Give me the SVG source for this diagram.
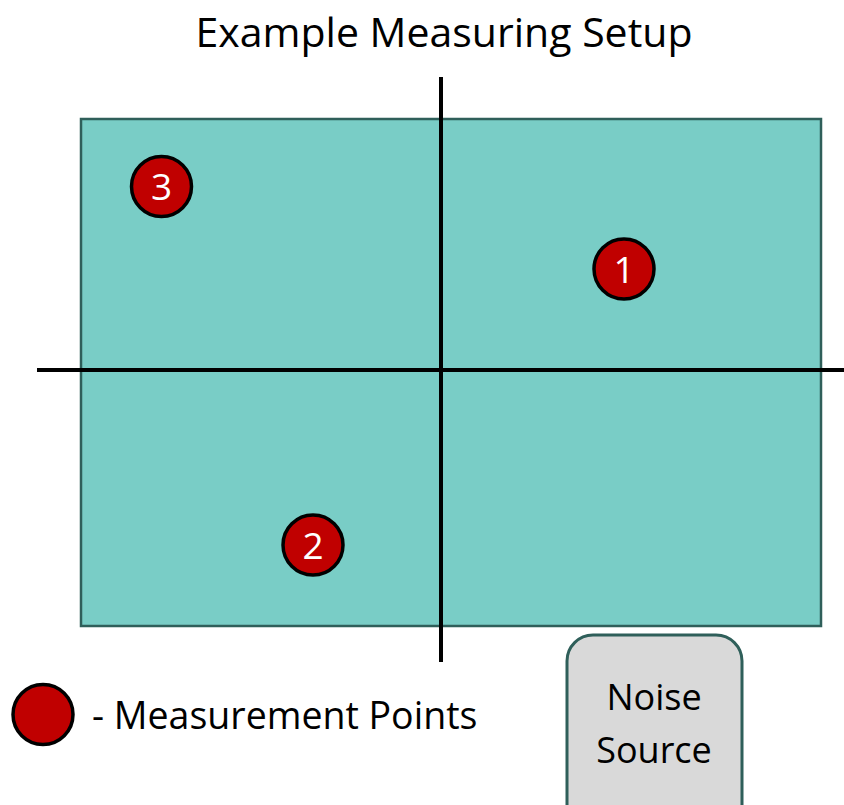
<svg xmlns="http://www.w3.org/2000/svg" width="844" height="805" viewBox="0 0 844 805">
  <style>
    .txt { font-family: "Open Sans", "Liberation Sans", sans-serif; fill: #000; }
    .num { font-family: "Open Sans", "Liberation Sans", sans-serif; fill: #fff; font-size: 37px; text-anchor: middle; }
    .pt { fill: #c00000; stroke: #000; stroke-width: 3.5; }
    .axis { stroke: #000; stroke-width: 4; }
  </style>
  <rect width="844" height="805" fill="#fff"/>
  <text class="txt" x="444" y="47" font-size="41" text-anchor="middle">Example Measuring Setup</text>

  <g id="board">
    <rect x="81" y="119" width="740" height="507" fill="#79cdc6" stroke="#2f5f5a" stroke-width="2.5"/>
  </g>

  <g id="axes">
    <line class="axis" x1="441" y1="77" x2="441" y2="662"/>
    <line class="axis" x1="37" y1="370" x2="844" y2="370"/>
  </g>

  <g id="point3">
    <circle class="pt" cx="161.5" cy="186.5" r="30"/>
    <text class="num" x="161.5" y="200">3</text>
  </g>
  <g id="point1">
    <circle class="pt" cx="624" cy="269" r="30" stroke="#2f5f5a"/>
    <text class="num" x="624" y="282.5">1</text>
  </g>
  <g id="point2">
    <circle class="pt" cx="313" cy="545" r="30"/>
    <text class="num" x="313" y="558.5">2</text>
  </g>

  <g id="legend">
    <circle class="pt" cx="43" cy="714.5" r="30"/>
    <text class="txt" x="92" y="729" font-size="37.5">- Measurement Points</text>
  </g>

  <g id="noise-source">
    <rect x="567" y="635" width="175" height="200" rx="26" fill="#d9d9d9" stroke="#2f5f5a" stroke-width="3"/>
    <text class="txt" x="654" y="710" font-size="36" text-anchor="middle">Noise</text>
    <text class="txt" x="654" y="763" font-size="36" text-anchor="middle">Source</text>
  </g>
</svg>
